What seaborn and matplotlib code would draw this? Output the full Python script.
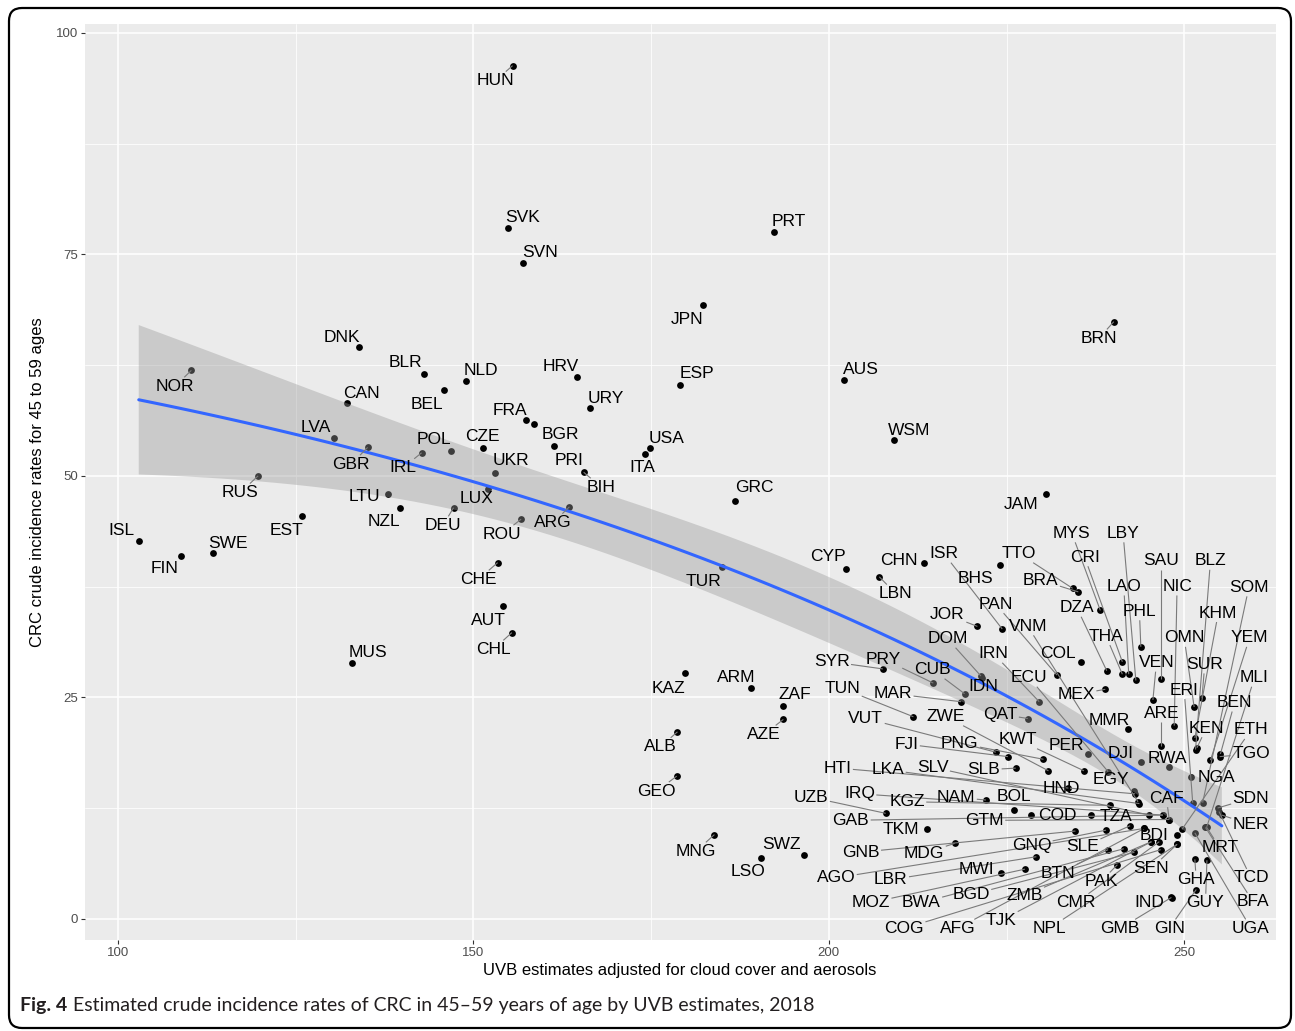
import numpy as np
import pandas as pd
import matplotlib
matplotlib.use("Agg")
import matplotlib.pyplot as plt
import seaborn as sns
from matplotlib.patches import FancyBboxPatch
from matplotlib.transforms import IdentityTransform, offset_copy

countries = ["ISL","FIN","SWE","NOR","RUS","EST","LVA","GBR","DNK","CAN","LTU","NZL","MUS","IRL","POL","BLR","BEL","NLD","DEU","CZE",
             "UKR","LUX","ROU","CHE","AUT","CHL","HUN","SVK","SVN","FRA","BGR","PRI","BIH","HRV","URY","ARG","ESP","JPN","PRT","USA",
             "ITA","TUR","GRC","AUS","WSM","BRN","JAM","KAZ","ARM","ZAF","AZE","ALB","GEO","MNG","SWZ","LSO","CYP","CHN","LBN","ISR",
             "BHS","TTO","BRA","JOR","PAN","COL","VNM","MYS","CRI","DZA","THA","LAO","LBY","PHL","SAU","VEN","ARE","RWA","NIC","OMN",
             "SUR","ERI","NGA","KEN","BLZ","KHM","SOM","YEM","MLI","BEN","ETH","TGO","MEX","MMR","ECU","IRN","DOM","IDN","CUB","PRY",
             "SYR","MAR","TUN","QAT","VUT","ZWE","FJI","PNG","KWT","PER","DJI","SLB","EGY","HND","HTI","LKA","SLV","CAF","UZB","IRQ",
             "KGZ","NAM","BOL","GAB","TKM","GTM","COD","TZA","GNB","MDG","GNQ","SLE","BDI","MRT","AGO","LBR","MWI","BTN","PAK","SEN",
             "GHA","TCD","MOZ","BWA","BGD","ZMB","CMR","IND","GUY","BFA","COG","AFG","TJK","NPL","GMB","GIN","UGA","SDN","NER"]

uvb = [102.9,108.8,113.3,110.3,119.7,125.8,130.4,135.1,133.9,132.2,138.0,139.7,132.9,142.7,146.9,143.0,145.8,148.9,147.2,151.3,
       153.0,152.0,156.7,153.4,154.1,155.4,155.5,154.8,156.9,157.4,158.5,161.3,165.5,164.6,166.4,163.5,179.1,182.3,192.3,174.8,
       174.1,185.0,186.8,202.2,209.1,240.1,230.5,179.7,189.0,193.6,193.6,178.7,178.6,183.9,196.5,190.4,202.4,213.4,207.1,224.4,
       224.1,234.3,235.1,220.9,232.1,235.5,243.5,238.2,241.3,239.1,241.3,242.2,243.2,243.9,246.7,245.6,246.8,247.9,248.6,251.4,
       252.5,251.2,250.9,251.8,251.6,251.5,252.6,253.7,253.2,255.1,249.7,255.0,238.9,242.1,239.3,229.6,221.4,221.6,219.1,214.7,
       207.6,218.6,211.9,228.0,223.5,230.9,225.2,230.2,235.9,236.4,243.9,226.3,243.0,233.6,243.1,243.7,245.1,247.9,208.0,247.0,
       239.5,222.1,226.0,247.0,213.8,247.9,228.5,236.9,234.7,217.7,239.0,242.4,249.0,253.1,244.4,229.2,224.2,239.3,240.6,249.0,
       251.5,254.9,227.6,241.5,243.0,245.4,246.5,248.3,253.2,253.0,246.7,244.4,245.4,249.0,248.2,251.7,251.5,254.7,255.3]

crc = [42.6,41.0,41.3,61.9,50.0,45.5,54.3,53.2,64.5,58.2,48.0,46.4,28.9,52.6,52.8,61.5,59.7,60.7,46.4,53.1,
       50.3,48.5,45.1,40.2,35.3,32.3,96.3,78.0,74.0,56.3,55.9,53.4,50.4,61.2,57.6,46.5,60.2,69.3,77.5,53.1,
       52.5,39.7,47.2,60.8,54.0,67.4,48.0,27.7,26.0,24.0,22.5,21.1,16.1,9.5,7.2,6.8,39.5,40.2,38.6,32.7,
       39.9,37.3,36.9,33.0,27.5,29.0,13.2,34.8,29.0,28.0,27.6,27.6,26.9,30.7,27.1,24.7,19.5,17.1,21.8,23.9,
       24.9,13.1,16.0,19.3,19.1,20.4,13.1,17.9,10.4,18.6,10.1,18.3,25.9,21.4,16.6,24.5,27.4,27.2,25.4,26.6,
       28.2,24.5,22.8,22.6,18.8,16.7,18.3,18.0,16.7,18.6,17.7,17.0,14.4,14.8,14.1,13.0,11.7,11.2,11.9,11.7,
       12.8,13.4,12.3,11.7,10.1,11.2,11.7,11.7,9.9,8.5,10.0,10.5,9.5,10.4,10.2,7.0,5.2,7.8,6.1,8.4,
       6.7,12.1,5.6,7.9,7.5,8.7,8.7,2.3,6.6,10.3,7.8,10.2,8.7,8.4,2.4,3.3,9.7,12.5,11.7]

# label placement (repelled text positions, data units)
label_x = [100.4,106.5,115.5,108.0,117.2,123.7,127.8,132.8,131.5,134.3,134.7,137.4,135.1,140.1,144.4,140.4,143.5,151.1,145.7,151.3,
           155.2,150.4,154.0,150.7,152.1,152.8,153.1,156.9,159.4,155.1,162.2,163.4,168.0,162.3,168.6,161.2,181.4,180.0,194.4,177.1,
           173.7,182.3,189.5,204.5,211.3,238.0,227.1,177.4,187.0,195.2,190.9,176.3,175.8,181.3,193.3,188.6,199.9,209.8,209.4,216.2,
           220.6,226.8,229.8,216.7,223.5,232.2,228.0,234.2,236.0,234.9,239.0,241.5,241.4,243.7,246.7,246.1,246.8,247.7,249.0,250.0,
           252.9,250.0,254.5,253.1,253.7,254.8,259.1,259.2,259.9,257.1,259.4,259.4,234.8,239.5,228.2,223.2,216.7,221.8,214.6,207.7,
           200.4,209.0,201.9,224.1,205.2,216.5,210.9,218.4,226.6,233.4,241.1,221.8,239.7,232.7,201.2,208.3,214.6,247.5,197.5,204.3,
           211.0,217.9,226.1,203.1,210.1,221.9,232.2,240.4,204.5,213.4,228.5,235.7,245.8,255.0,201.0,208.7,220.7,232.2,238.3,245.4,
           251.7,259.4,205.9,213.0,220.0,227.5,234.8,245.1,253.0,259.7,210.6,218.1,224.2,231.0,241.0,247.9,259.4,259.4,259.4]
label_y = [44.0,39.7,42.6,60.3,48.3,44.0,55.7,51.5,65.8,59.5,47.9,45.0,30.3,51.1,54.3,63.0,58.2,62.1,44.6,54.6,
           51.9,47.6,43.6,38.5,33.9,30.6,94.8,79.4,75.4,57.6,54.8,51.9,48.9,62.5,58.9,44.9,61.7,67.8,78.9,54.4,
           51.1,38.3,48.9,62.2,55.3,65.7,46.9,26.2,27.4,25.5,21.0,19.6,14.6,7.8,8.6,5.5,41.1,40.6,36.9,41.4,
           38.6,41.4,38.4,34.5,35.7,30.1,33.2,43.7,41.0,35.3,32.1,37.7,43.7,34.9,40.6,29.1,23.4,18.3,37.7,31.9,
           28.9,26.0,16.1,21.7,40.6,34.7,37.6,31.9,27.4,24.6,21.5,18.8,25.5,22.6,27.4,30.1,31.8,26.4,28.3,29.5,
           29.2,25.6,26.2,23.3,22.8,23.0,19.9,20.0,20.4,19.8,18.8,17.0,15.9,14.9,17.2,17.0,17.3,13.8,13.9,14.3,
           13.4,13.9,14.0,11.3,10.3,11.3,11.8,11.7,7.7,7.6,8.5,8.3,9.6,8.2,4.8,4.6,5.7,5.3,4.4,5.9,
           4.6,4.8,2.0,2.0,2.9,2.8,2.0,2.0,2.0,2.1,-0.9,-0.9,0.0,-0.9,-0.9,-0.9,-0.9,13.8,10.8]

x_ticks = [100, 150, 200, 250]
x_minor = [125, 175, 225]
y_ticks = [0, 25, 50, 75, 100]
y_minor = [12.5, 37.5, 62.5, 87.5]
x_title = "UVB estimates adjusted for cloud cover and aerosols"
y_title = "CRC crude incidence rates for 45 to 59 ages"
caption_bold = "Fig. 4"
caption_text = "Estimated crude incidence rates of CRC in 45\u201359 years of age by UVB estimates, 2018"

df = pd.DataFrame({"country": countries, "uvb": uvb, "crc": crc})


def smooth_fit(x, y, xgrid):
    """Nonlinear least-squares fit y = a + b*exp(k*(x - xmax)) with a 95% delta-method band."""
    x = np.asarray(x, float)
    y = np.asarray(y, float)
    n = len(x)
    xr = x.max()
    best = None
    for k in np.linspace(0.0005, 0.08, 800):
        B = np.column_stack([np.ones(n), np.exp(k * (x - xr))])
        coef, *_ = np.linalg.lstsq(B, y, rcond=None)
        rss = np.sum((y - B @ coef) ** 2)
        if best is None or rss < best[0]:
            best = (rss, k, coef)
    rss, k, (a, b) = best

    def jac(v):
        e = np.exp(k * (v - xr))
        return np.column_stack([np.ones(len(v)), e, b * (v - xr) * e])

    J = jac(x)
    G = jac(xgrid)
    sigma2 = rss / (n - 3)
    cov = sigma2 * np.linalg.inv(J.T @ J)
    fit = a + b * np.exp(k * (xgrid - xr))
    se = np.sqrt(np.einsum("ij,jk,ik->i", G, cov, G))
    tq = 1.975
    return fit, fit - tq * se, fit + tq * se


grid = np.linspace(df["uvb"].min(), df["uvb"].max(), 80)
fit, lo, hi = smooth_fit(df["uvb"], df["crc"], grid)
smooth = pd.DataFrame({"uvb": grid, "fit": fit, "lo": lo, "hi": hi})

sns.set_theme(style="darkgrid", rc={"axes.facecolor": "#EBEBEB", "grid.color": "white"})
plt.rcParams["font.family"] = ["Liberation Sans", "DejaVu Sans"]

W, H = 1295, 1031
fig = plt.figure(figsize=(W / 100, H / 100), dpi=100)
fig.patch.set_facecolor("white")
ax = fig.add_axes([84.6 / W, 1 - 940 / H, (1276 - 84.6) / W, (940 - 24) / H])
ax.set_facecolor("#EBEBEB")

sns.scatterplot(data=df, x="uvb", y="crc", color="black", s=24, linewidth=0, ax=ax, zorder=2, legend=False)
ax.fill_between(smooth["uvb"], smooth["lo"], smooth["hi"], facecolor=(0.6, 0.6, 0.6, 0.4),
                edgecolor="none", linewidth=0, zorder=3)
sns.lineplot(data=smooth, x="uvb", y="fit", color="#3366FF", lw=2.2, ax=ax, zorder=4)

ax.set_xlim(95.28, 262.92)
ax.set_ylim(-2.4, 101.0)
ax.autoscale(False)
ax.set_xticks(x_ticks)
ax.set_xticks(x_minor, minor=True)
ax.set_yticks(y_ticks)
ax.set_yticks(y_minor, minor=True)
ax.set_xticklabels([str(v) for v in x_ticks])
ax.set_yticklabels([str(v) for v in y_ticks])
ax.grid(which="major", color="white", lw=1.1)
ax.grid(which="minor", color="white", lw=0.55)
ax.set_axisbelow(True)
ax.tick_params(axis="both", which="major", length=2.75, width=0.8, color="#333333",
               labelcolor="#4D4D4D", labelsize=9.5, pad=2.2, bottom=True, left=True)
ax.tick_params(axis="both", which="minor", length=0)
for s in ax.spines.values():
    s.set_visible(False)
ax.set_xlabel("")
ax.set_ylabel("")

fig.text(680 / W, 1 - 970 / H, x_title, ha="center", va="center", fontsize=12, color="black")
fig.text(38 / W, 1 - 482 / H, y_title, ha="center", va="center", rotation=90, fontsize=12, color="black")

# labels
lab_fs = 12.5
trans_lab = offset_copy(ax.transData, fig=fig, y=-6.2, units="dots")
texts = []
for name, lx, ly in zip(countries, label_x, label_y):
    t = ax.text(lx, ly, name, ha="center", va="baseline", fontsize=lab_fs, color="black",
                transform=trans_lab, zorder=6)
    texts.append(t)

fig.canvas.draw()
renderer = fig.canvas.get_renderer()
inv = ax.transData.inverted()
for t, px_, py_ in zip(texts, uvb, crc):
    bb = t.get_window_extent(renderer)
    x0, x1 = bb.x0 - 1.5, bb.x1 + 1.5
    y0, y1 = bb.y0 - 1.5, bb.y1 + 1.5
    p = ax.transData.transform((px_, py_))
    c = np.array([(x0 + x1) / 2, (y0 + y1) / 2])
    if x0 <= p[0] <= x1 and y0 <= p[1] <= y1:
        continue
    d = c - p
    tx = 0.0
    if p[0] < x0:
        tx = (x0 - p[0]) / d[0]
    elif p[0] > x1:
        tx = (x1 - p[0]) / d[0]
    ty = 0.0
    if p[1] < y0:
        ty = (y0 - p[1]) / d[1]
    elif p[1] > y1:
        ty = (y1 - p[1]) / d[1]
    tt = max(tx, ty)
    e = p + tt * d
    if np.hypot(*(e - p)) < 9:
        continue
    a = inv.transform(p)
    b = inv.transform(e)
    ax.plot([a[0], b[0]], [a[1], b[1]], color="#7a7a7a", lw=0.8, zorder=5, solid_capstyle="butt")

# caption
cap_fs = 14.0
cb = fig.text(20 / W, 1 - 1006 / H, caption_bold, ha="left", va="center", fontsize=cap_fs,
              fontweight="bold", family=["Lato", "DejaVu Sans"], color="#231F20")
fig.canvas.draw()
bbw = cb.get_window_extent(renderer)
fig.text((bbw.x1 + 6) / W, 1 - 1006 / H, caption_text, ha="left", va="center", fontsize=cap_fs,
         family=["Lato", "DejaVu Sans"], color="#231F20")

border = FancyBboxPatch((9, 3), 1282, 1020, boxstyle="round,pad=0,rounding_size=13",
                        transform=IdentityTransform(), fill=False, ec="black", lw=1.6)
fig.add_artist(border)

fig.savefig("out.png", dpi=100)
